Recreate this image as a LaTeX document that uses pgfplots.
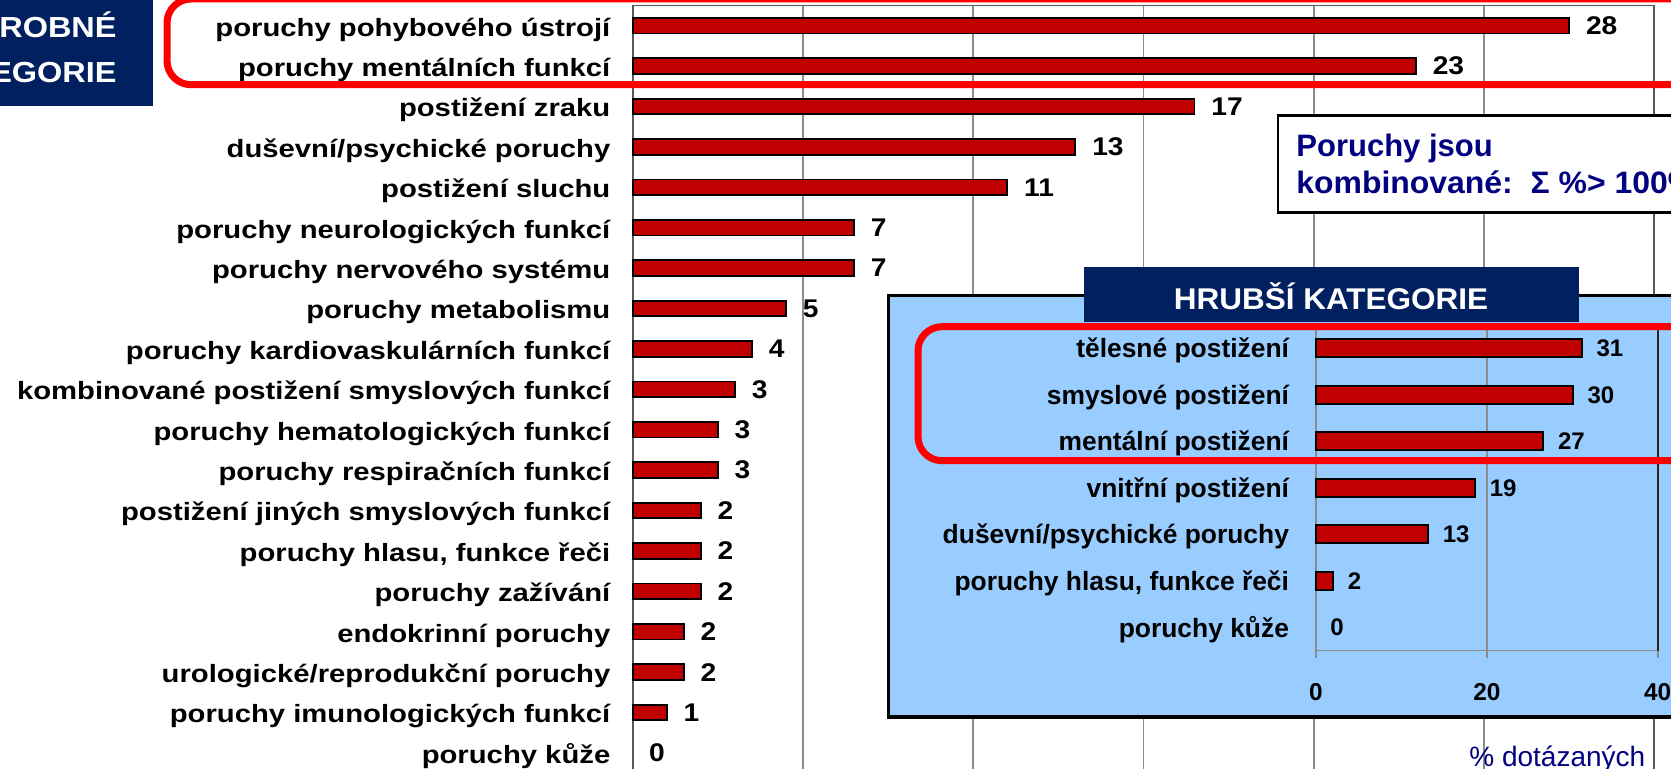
\documentclass[border=0pt]{standalone}
\usepackage{fontspec}
\setmainfont{Liberation Sans}
\usepackage{graphicx}
\usepackage{pgfplots}
\usepackage{pgfplotstable}
\pgfplotsset{compat=1.18}
\definecolor{barred}{HTML}{C00000}
\definecolor{skyb}{HTML}{99CCFF}
\definecolor{navyh}{HTML}{002060}
\definecolor{navyt}{HTML}{000080}
\definecolor{gridg}{HTML}{8C8C8C}
\newcommand{\ML}[1]{\scalebox{1.17}[1]{#1}}
\newcommand{\MV}[1]{\scalebox{1.1}[1]{#1}}

\pgfplotstableread{
y v l
1 1.0 1
2 1.5 2
3 1.5 2
4 2.0 2
5 2.0 2
6 2.0 2
7 2.5 3
8 2.5 3
9 3.0 3
10 3.5 4
11 4.5 5
12 6.5 7
13 6.5 7
14 11.0 11
15 13.0 13
16 16.5 17
17 23.0 23
18 27.5 28
}\maindata

\pgfplotstableread{
y v l
1 2.0 2
2 13.1 13
3 18.6 19
4 26.6 27
5 30.05 30
6 31.1 31
}\insetdata

\begin{document}
\begin{tikzpicture}
% ---------------- main chart ----------------
\begin{axis}[
  at={(316.35pt,-2.75pt)}, anchor=north west,
  scale only axis, width=510.8pt, height=383.8pt,
  xmin=0, xmax=30, ymin=-0.5, ymax=18.5,
  xtick={0,5,...,30}, xticklabels={},
  xmajorgrids, major grid style={draw=gridg, line width=0.8pt},
  ytick={0,...,18},
  yticklabels={
    {\ML{poruchy kůže}},
    {\ML{poruchy imunologických funkcí}},
    {\ML{urologické/reprodukční poruchy}},
    {\ML{endokrinní poruchy}},
    {\ML{poruchy zažívání}},
    {\ML{poruchy hlasu, funkce řeči}},
    {\ML{postižení jiných smyslových funkcí}},
    {\ML{poruchy respiračních funkcí}},
    {\ML{poruchy hematologických funkcí}},
    {\ML{kombinované postižení smyslových funkcí}},
    {\ML{poruchy kardiovaskulárních funkcí}},
    {\ML{poruchy metabolismu}},
    {\ML{poruchy nervového systému}},
    {\ML{poruchy neurologických funkcí}},
    {\ML{postižení sluchu}},
    {\ML{duševní/psychické poruchy}},
    {\ML{postižení zraku}},
    {\ML{poruchy mentálních funkcí}},
    {\ML{poruchy pohybového ústrojí}}},
  major tick length=0pt,
  axis line style={draw=black!65, line width=0.9pt},
  y tick label style={font=\bfseries\fontsize{12.5}{13}\selectfont, anchor=base east, inner sep=0pt, xshift=-11pt, yshift=-5.2pt},
  xbar, bar width=7.8pt, bar shift=0pt,
  point meta=explicit symbolic,
  nodes near coords={\MV{\pgfplotspointmeta}},
  nodes near coords style={font=\bfseries\fontsize{12.8}{13}\selectfont, anchor=west, inner sep=0pt, xshift=8pt},
  clip=false,
]
\addplot[fill=barred, draw=black, line width=0.9pt] table[x=v,y=y,meta=l]{\maindata};
\addplot[draw=none, fill=none] coordinates {(0,0) [0]};
\end{axis}

\begin{scope}[x=0.5pt,y=-0.5pt]
  % red highlight, main
  \draw[red, line width=3.5pt, rounded corners=12pt] (167,-1) rectangle (1760,84.7);
  % note box
  \draw[fill=white, draw=black, line width=1.2pt] (1277.7,115.7) rectangle (1760,212.7);
  \node[anchor=base west, inner sep=0pt, text=navyt, font=\bfseries\fontsize{15.5}{16}\selectfont] at (1296,156.7) {Poruchy jsou};
  \node[anchor=base west, inner sep=0pt, text=navyt, font=\bfseries\fontsize{15.5}{16}\selectfont] at (1296,193.3) {\scalebox{1.03}[1]{kombinované:\ \ Σ \%> 100\%}};
  % inset background
  \draw[fill=skyb, draw=black, line width=1.5pt] (888,295.5) rectangle (1760,717);
  % header
  \fill[navyh] (1084,267) rectangle (1579,322);
  \node[anchor=base, inner sep=0pt, text=white, font=\bfseries\fontsize{15}{16}\selectfont] at (1331,309.3) {\scalebox{1.05}[1]{HRUBŠÍ KATEGORIE}};
\end{scope}

% ---------------- inset chart ----------------
\begin{axis}[
  at={(658pt,-162.5pt)}, anchor=north west,
  scale only axis, width=170.85pt, height=162.85pt,
  xmin=0, xmax=40, ymin=-0.5, ymax=6.5,
  axis lines*=left,
  axis line style={draw=gridg, line width=0.8pt},
  xtick={0,20,40}, xticklabels={0,20,40},
  xmajorgrids, major grid style={draw=gridg, line width=0.8pt},
  tick align=outside, major tick length=3.5pt,
  x tick style={draw=gridg, line width=0.8pt},
  y tick style={draw=none},
  x tick label style={font=\bfseries\fontsize{12.2}{13}\selectfont, anchor=north, inner sep=0pt, yshift=-12.5pt},
  ytick={0,...,6},
  yticklabels={
    {poruchy kůže},
    {poruchy hlasu, funkce řeči},
    {duševní/psychické poruchy},
    {vnitřní postižení},
    {mentální postižení},
    {smyslové postižení},
    {tělesné postižení}},
  y tick label style={font=\bfseries\fontsize{13.2}{14}\selectfont, anchor=base east, inner sep=0pt, xshift=-9.8pt, yshift=-4.8pt},
  xbar, bar width=9pt, bar shift=0pt,
  point meta=explicit symbolic,
  nodes near coords={\pgfplotspointmeta},
  nodes near coords style={font=\bfseries\fontsize{12}{13}\selectfont, anchor=west, inner sep=0pt, xshift=7pt},
  clip=false,
]
\addplot[fill=barred, draw=black, line width=0.9pt] table[x=v,y=y,meta=l]{\insetdata};
\addplot[draw=none, fill=none] coordinates {(0,0) [0]};
\end{axis}

\begin{scope}[x=0.5pt,y=-0.5pt]
  \draw[black!85, line width=0.9pt] (1657.7,325) -- (1657.7,651);
  % red highlight, inset
  \draw[red, line width=3.5pt, rounded corners=12pt] (918,326.7) rectangle (1760,460.7);
  % axis title
  \node[anchor=base west, inner sep=0pt, text=navyt, font=\fontsize{14}{15}\selectfont] at (1469,766.7) {\% dotázaných};
  % left title box
  \fill[navyh] (-130,-10) rectangle (153,106);
  \node[anchor=base east, inner sep=0pt, text=white, font=\bfseries\fontsize{14.5}{15}\selectfont] at (117,37.7) {\scalebox{1.12}[1]{PODROBNÉ}};
  \node[anchor=base east, inner sep=0pt, text=white, font=\bfseries\fontsize{14.5}{15}\selectfont] at (117,82.7) {\scalebox{1.12}[1]{KATEGORIE}};
\end{scope}

\pgfresetboundingbox
\path[use as bounding box] (0pt,0pt) rectangle (835.5pt,-384.5pt);
\end{tikzpicture}
\end{document}
